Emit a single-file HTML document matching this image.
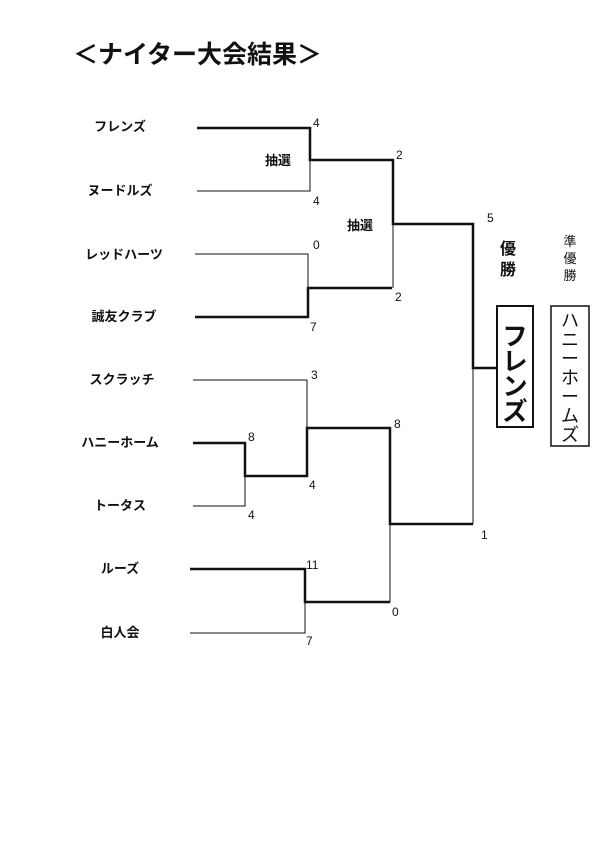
<!DOCTYPE html>
<html><head><meta charset="utf-8"><style>
html,body{margin:0;padding:0;background:#fff;}
svg{display:block}
text{font-family:"Liberation Sans","Noto Sans CJK JP",sans-serif;fill:#111}
.n{font-size:13px;font-weight:bold;text-anchor:middle}
.s{font-size:12px}
</style></head><body>
<svg width="600" height="849" viewBox="0 0 600 849">
<text x="73" y="63" font-size="25" font-weight="bold">＜ナイター大会結果＞</text>
<g class="n">
<text x="120" y="131" class="n">フレンズ</text>
<text x="120" y="195" class="n">ヌードルズ</text>
<text x="124" y="259" class="n">レッドハーツ</text>
<text x="124" y="321" class="n">誠友クラブ</text>
<text x="122" y="384" class="n">スクラッチ</text>
<text x="120" y="447" class="n">ハニーホーム</text>
<text x="120" y="510" class="n">トータス</text>
<text x="120" y="573" class="n">ルーズ</text>
<text x="120" y="637" class="n">白人会</text>
</g>
<g stroke="#111" fill="none" stroke-width="1">
<path d="M197 191H310V160"/>
<path d="M195 254H308V288"/>
<path d="M393 224V288"/>
<path d="M193 380H307V428"/>
<path d="M193 506H245V476"/>
<path d="M190 633H305V602"/>
<path d="M390 524V602"/>
<path d="M473 368V524"/>
</g>
<g stroke="#111" fill="none" stroke-width="2.5">
<path d="M197 128H310V160H393V224H473V368H497"/>
<path d="M195 317H308V288H392"/>
<path d="M193 443H245V476H307V428H390V524H473"/>
<path d="M190 569H305V602H390"/>
</g>
<g>
<text x="313" y="127" class="s">4</text>
<text x="313" y="205" class="s">4</text>
<text x="396" y="159" class="s">2</text>
<text x="395" y="301" class="s">2</text>
<text x="313" y="249" class="s">0</text>
<text x="310" y="331" class="s">7</text>
<text x="487" y="222" class="s">5</text>
<text x="311" y="379" class="s">3</text>
<text x="394" y="428" class="s">8</text>
<text x="309" y="489" class="s">4</text>
<text x="248" y="441" class="s">8</text>
<text x="248" y="519" class="s">4</text>
<text x="306" y="569" class="s">11</text>
<text x="392" y="616" class="s">0</text>
<text x="306" y="645" class="s">7</text>
<text x="481" y="539" class="s">1</text>
</g>
<text x="265" y="165" font-size="13" font-weight="bold">抽選</text>
<text x="347" y="230" font-size="13" font-weight="bold">抽選</text>
<text x="508" y="254" font-size="16" font-weight="bold" text-anchor="middle">優</text>
<text x="508" y="275" font-size="16" font-weight="bold" text-anchor="middle">勝</text>
<text x="570" y="246" font-size="13" text-anchor="middle">準</text>
<text x="570" y="263" font-size="13" text-anchor="middle">優</text>
<text x="570" y="280" font-size="13" text-anchor="middle">勝</text>
<rect x="497" y="306" width="36" height="121" fill="none" stroke="#111" stroke-width="2"/>
<g font-size="25" font-weight="bold" text-anchor="middle">
<text x="515" y="345">フ</text>
<text x="515" y="370">レ</text>
<text x="515" y="395">ン</text>
<text x="515" y="420">ズ</text>
</g>
<rect x="551" y="306" width="38" height="140" fill="none" stroke="#111" stroke-width="1.5"/>
<g font-size="18" text-anchor="middle">
<text x="570" y="327">ハ</text>
<text x="570" y="346">ニ</text>
<text x="570" y="365">ー</text>
<text x="570" y="384">ホ</text>
<text x="570" y="403">ー</text>
<text x="570" y="422">ム</text>
<text x="570" y="441">ズ</text>
</g>
</svg>
</body></html>
